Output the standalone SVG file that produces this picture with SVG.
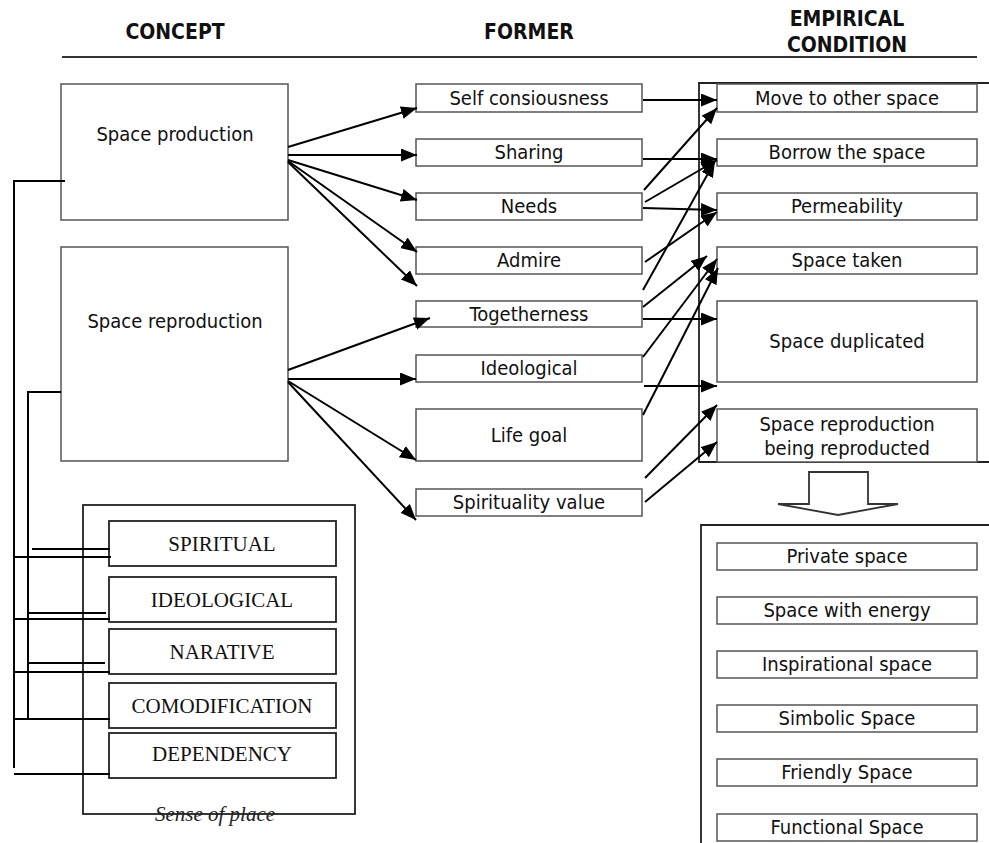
<svg xmlns="http://www.w3.org/2000/svg" width="989" height="843" viewBox="0 0 989 843">
<style>
.hd{font-family:"DejaVu Sans Condensed","DejaVu Sans",Verdana,sans-serif;font-stretch:condensed;font-weight:bold;font-size:21px;fill:#111;text-anchor:middle}
.t{font-family:"DejaVu Sans Condensed","DejaVu Sans",Verdana,sans-serif;font-stretch:condensed;font-size:20px;fill:#111;text-anchor:middle}
.tr{font-family:"Liberation Serif","Times New Roman",serif;font-size:21px;fill:#111;text-anchor:middle}
.bx{fill:#fff;stroke:#555;stroke-width:1.5}
.bk{fill:none;stroke:#222;stroke-width:1.8}
.ln{fill:none;stroke:#000;stroke-width:2}
.ar{fill:none;stroke:#000;stroke-width:2;marker-end:url(#ah)}
</style>
<defs>
<marker id="ah" markerWidth="18" markerHeight="14" refX="16" refY="6.5" orient="auto" markerUnits="userSpaceOnUse">
<path d="M0,0 L16,6.5 L0,13 z" fill="#000"/>
</marker>
</defs>
<rect width="989" height="843" fill="#fff"/>

<g id="headers">
<text class="hd" x="175" y="39">CONCEPT</text>
<text class="hd" x="529" y="39">FORMER</text>
<text class="hd" x="847" y="26">EMPIRICAL</text>
<text class="hd" x="847" y="52">CONDITION</text>
<line x1="62" y1="57" x2="977" y2="57" stroke="#333" stroke-width="1.8"/>
</g>

<g id="empirical-frame">
<path class="bk" d="M989,83 H699 V462 H989"/>
</g>
<g id="result-frame">
<path class="bk" d="M989,525 H701 V843"/>
</g>

<g id="space-production"><rect class="bx" x="61" y="84" width="227" height="136"/><text class="t" x="175" y="141">Space production</text></g>
<g id="space-reproduction"><rect class="bx" x="61" y="247" width="227" height="214"/><text class="t" x="175" y="328">Space reproduction</text></g>

<g id="f-self"><rect class="bx" x="416" y="84" width="226" height="28"/><text class="t" x="529" y="105">Self consiousness</text></g>
<g id="f-sharing"><rect class="bx" x="416" y="139" width="226" height="27"/><text class="t" x="529" y="159">Sharing</text></g>
<g id="f-needs"><rect class="bx" x="416" y="193" width="226" height="27"/><text class="t" x="529" y="213">Needs</text></g>
<g id="f-admire"><rect class="bx" x="416" y="247" width="226" height="27"/><text class="t" x="529" y="267">Admire</text></g>
<g id="f-togetherness"><rect class="bx" x="416" y="301" width="226" height="26"/><text class="t" x="529" y="321">Togetherness</text></g>
<g id="f-ideological"><rect class="bx" x="416" y="355" width="226" height="27"/><text class="t" x="529" y="375">Ideological</text></g>
<g id="f-lifegoal"><rect class="bx" x="416" y="409" width="226" height="52"/><text class="t" x="529" y="442">Life goal</text></g>
<g id="f-spirituality"><rect class="bx" x="416" y="489" width="226" height="27"/><text class="t" x="529" y="509">Spirituality value</text></g>

<g id="e-move"><rect class="bx" x="717" y="84" width="260" height="28"/><text class="t" x="847" y="105">Move to other space</text></g>
<g id="e-borrow"><rect class="bx" x="717" y="139" width="260" height="27"/><text class="t" x="847" y="159">Borrow the space</text></g>
<g id="e-permeability"><rect class="bx" x="717" y="193" width="260" height="27"/><text class="t" x="847" y="213">Permeability</text></g>
<g id="e-taken"><rect class="bx" x="717" y="247" width="260" height="27"/><text class="t" x="847" y="267">Space taken</text></g>
<g id="e-duplicated"><rect class="bx" x="717" y="301" width="260" height="81"/><text class="t" x="847" y="348">Space duplicated</text></g>
<g id="e-reproduced"><rect class="bx" x="717" y="409" width="260" height="53"/><text class="t" x="847" y="431">Space reproduction</text><text class="t" x="847" y="455">being reproducted</text></g>

<g id="down-arrow"><path d="M809,472 H868 V504 H898 L838,515 L778,504 H809 Z" fill="#fff" stroke="#333" stroke-width="1.8"/></g>

<g id="r-private"><rect class="bx" x="717" y="543" width="260" height="27"/><text class="t" x="847" y="563">Private space</text></g>
<g id="r-energy"><rect class="bx" x="717" y="597" width="260" height="27"/><text class="t" x="847" y="617">Space with energy</text></g>
<g id="r-inspirational"><rect class="bx" x="717" y="651" width="260" height="27"/><text class="t" x="847" y="671">Inspirational space</text></g>
<g id="r-simbolic"><rect class="bx" x="717" y="705" width="260" height="27"/><text class="t" x="847" y="725">Simbolic Space</text></g>
<g id="r-friendly"><rect class="bx" x="717" y="759" width="260" height="27"/><text class="t" x="847" y="779">Friendly Space</text></g>
<g id="r-functional"><rect class="bx" x="717" y="814" width="260" height="27"/><text class="t" x="847" y="834">Functional Space</text></g>

<g id="sense-of-place">
<rect x="83" y="505" width="272" height="309" fill="none" stroke="#222" stroke-width="1.8"/>
<text x="215" y="821" font-family="Liberation Serif,'Times New Roman',serif" font-style="italic" font-size="21" fill="#222" text-anchor="middle">Sense of place</text>
</g>
<g id="s-spiritual"><rect class="bk" x="109" y="521" width="227" height="45"/><text class="tr" x="222" y="551">SPIRITUAL</text></g>
<g id="s-ideological"><rect class="bk" x="109" y="577" width="227" height="45"/><text class="tr" x="222" y="607">IDEOLOGICAL</text></g>
<g id="s-narative"><rect class="bk" x="109" y="629" width="227" height="45"/><text class="tr" x="222" y="659">NARATIVE</text></g>
<g id="s-comodification"><rect class="bk" x="109" y="683" width="227" height="45"/><text class="tr" x="222" y="713">COMODIFICATION</text></g>
<g id="s-dependency"><rect class="bk" x="109" y="733" width="227" height="45"/><text class="tr" x="222" y="761" font-size="16">DEPENDENCY</text></g>

<g id="connectors">
<path class="ar" d="M288,147 L417,108"/>
<path class="ar" d="M288,155 L417,155"/>
<path class="ar" d="M288,160 L417,200"/>
<path class="ar" d="M288,161 L417,252"/>
<path class="ar" d="M288,162 L417,286"/>
<path class="ar" d="M288,370 L430,318"/>
<path class="ar" d="M288,379 L416,379"/>
<path class="ar" d="M288,381 L416,460"/>
<path class="ar" d="M288,382 L416,520"/>

<path class="ar" d="M643,100 L717,100"/>
<path class="ar" d="M644,190 L717,108"/>
<path class="ar" d="M643,159 L717,159"/>
<path class="ar" d="M645,202 L717,160"/>
<path class="ar" d="M643,290 L715,161"/>
<path class="ar" d="M643,208 L717,210"/>
<path class="ar" d="M645,262 L717,212"/>
<path class="ar" d="M643,307 L707,256"/>
<path class="ar" d="M643,357 L717,259"/>
<path class="ar" d="M643,415 L718,268"/>
<path class="ar" d="M643,319 L717,319"/>
<path class="ar" d="M644,386 L717,386"/>
<path class="ar" d="M645,478 L717,405"/>
<path class="ar" d="M645,502 L717,442"/>

<path class="ln" d="M65,181 H14 V768"/>
<path class="ln" d="M61,392 H28 V719"/>
<path class="ln" d="M32,549 H110"/>
<path class="ln" d="M14,557 H111"/>
<path class="ln" d="M28,613 H106"/>
<path class="ln" d="M14,619 H110"/>
<path class="ln" d="M28,663 H105"/>
<path class="ln" d="M14,672 H110"/>
<path class="ln" d="M14,719 H110"/>
<path class="ln" d="M14,774 H110"/>
</g>
</svg>
